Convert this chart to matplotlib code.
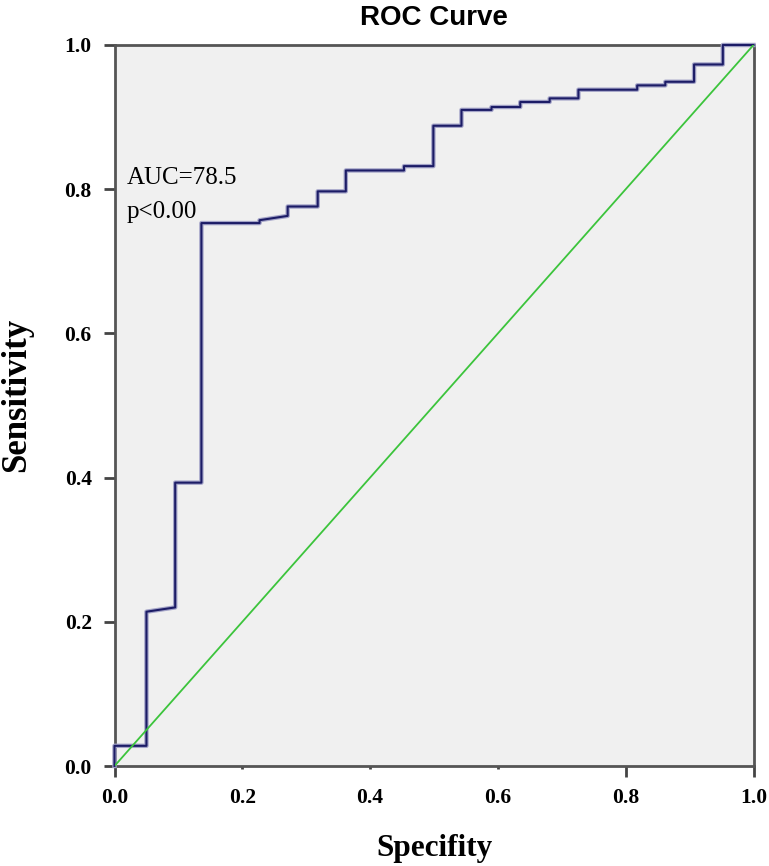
import matplotlib.pyplot as plt

# ROC curve points (1 - specificity, sensitivity)
spec = [0.0, 0.0, 0.05, 0.05, 0.095, 0.095, 0.136, 0.136, 0.227, 0.227,
        0.271, 0.271, 0.318, 0.318, 0.362, 0.362, 0.453, 0.453, 0.499, 0.499,
        0.543, 0.543, 0.590, 0.590, 0.635, 0.635, 0.681, 0.681, 0.726, 0.726,
        0.818, 0.818, 0.862, 0.862, 0.907, 0.907, 0.952, 0.952, 1.0]
sens = [0.0, 0.028, 0.028, 0.214, 0.220, 0.393, 0.393, 0.753, 0.753, 0.757,
        0.763, 0.776, 0.776, 0.797, 0.797, 0.826, 0.826, 0.832, 0.832, 0.888,
        0.888, 0.910, 0.910, 0.914, 0.914, 0.921, 0.921, 0.926, 0.926, 0.938,
        0.938, 0.944, 0.944, 0.949, 0.949, 0.973, 0.973, 1.0, 1.0]
ref_line = [0.0, 1.0]

ticks = [0.0, 0.2, 0.4, 0.6, 0.8, 1.0]
tick_labels = ['0.0', '0.2', '0.4', '0.6', '0.8', '1.0']
short_xticks = [1, 2, 3]

serif = 'Liberation Serif'

fig = plt.figure(figsize=(7.69, 8.66), dpi=100)
ax = fig.add_axes([114.5 / 769, 100 / 866, 639 / 769, 721 / 866])
ax.set_facecolor('#f0f0f0')

ax.plot(spec, sens, color='#a4a4c8', lw=3.2, zorder=3, clip_on=False)
ax.plot(spec, sens, color='#1c1c66', lw=1.5, zorder=3.1, clip_on=False)
ax.plot(ref_line, ref_line, color='#3cc43c', lw=1.3, zorder=3.2)

ax.set_xlim(0, 1)
ax.set_ylim(0, 1)
ax.set_xticks(ticks)
ax.set_xticklabels(tick_labels)
ax.set_yticks(ticks)
ax.set_yticklabels(tick_labels)
for lab in ax.get_xticklabels() + ax.get_yticklabels():
    lab.set_fontfamily(serif)
    lab.set_fontweight('bold')
    lab.set_fontsize(15.5)

ax.tick_params(axis='both', direction='out', length=8, width=2, color='#444444')
ax.tick_params(axis='x', pad=8)
ax.tick_params(axis='y', pad=8.4)
for i, t in enumerate(ax.xaxis.get_major_ticks()):
    if i in short_xticks:
        t.tick1line.set_markersize(2)

for sp in ax.spines.values():
    sp.set_linewidth(2)
    sp.set_color('#555555')

ax.set_title('ROC Curve', fontsize=20, fontweight='bold',
             family='Liberation Sans', pad=14.5)
ax.set_xlabel('Specifity', fontsize=22.5, fontweight='bold', family=serif)
ax.set_ylabel('Sensitivity', fontsize=25, fontweight='bold', family=serif)
ax.xaxis.set_label_coords(0.5, -0.094)
ax.yaxis.set_label_coords(-0.127, 0.515)

ax.text(0.019, 0.807, 'AUC=78.5', fontsize=18, family=serif, va='baseline')
ax.text(0.019, 0.760, 'p<0.00', fontsize=18, family=serif, va='baseline')

fig.savefig('out.png', dpi=100)
